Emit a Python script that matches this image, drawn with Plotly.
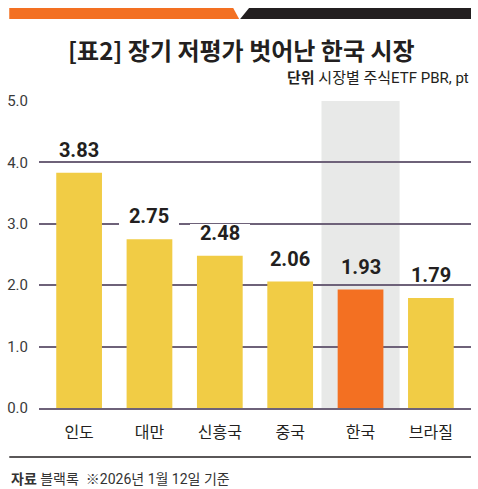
import plotly.graph_objects as go

# data
categories = ["인도", "대만", "신흥국", "중국", "한국", "브라질"]
pbr_values = [3.83, 2.75, 2.48, 2.06, 1.93, 1.79]
highlight = "한국"
y_ticks = [0, 1, 2, 3, 4, 5]

# colours
YELLOW = "#f1cc45"
ORANGE = "#f37022"
BAND = "#e8e9e8"
GRID = "#6e6279"
TEXT = "#231f20"
FONT = "Roboto, Noto Sans CJK KR, sans-serif"

# page geometry (pixels) -> paper coords
W, H = 478, 489
L, R, T, B = 35, 7, 101, 81
PW, PH = W - L - R, H - T - B


def px(x):
    return (x - L) / PW


def py(y):
    return (H - B - y) / PH


hi = categories.index(highlight)
colors = [ORANGE if c == highlight else YELLOW for c in categories]

fig = go.Figure()

fig.add_trace(go.Bar(
    x=categories,
    y=pbr_values,
    marker=dict(color=colors, line=dict(width=0)),
    width=0.65,
    hoverinfo="x+y",
))

shapes = [
    # gray band behind the highlighted market
    dict(type="rect", xref="x", yref="y", x0=hi - 0.555, x1=hi + 0.555,
         y0=0, y1=max(y_ticks), fillcolor=BAND, line=dict(width=0), layer="below"),
    # header stripe: orange + black with a notch
    dict(type="path", xref="paper", yref="paper",
         path=f"M {px(5)},{py(8)} L {px(231)},{py(8)} L {px(237)},{py(19)} L {px(5)},{py(19)} Z",
         fillcolor=ORANGE, line=dict(width=0)),
    dict(type="path", xref="paper", yref="paper",
         path=f"M {px(247)},{py(8)} L {px(471)},{py(8)} L {px(471)},{py(19)} L {px(238)},{py(19)} Z",
         fillcolor="#231f20", line=dict(width=0)),
    # footer rule
    dict(type="line", xref="paper", yref="paper", x0=px(5), x1=px(471),
         y0=py(457), y1=py(457), line=dict(color="#231f20", width=1.5)),
]

annotations = [
    dict(text="[표2] 장기 저평가 벗어난 한국 시장", xref="paper", yref="paper",
         x=px(239), y=py(50), xanchor="center", yanchor="middle", showarrow=False,
         font=dict(family="Noto Sans CJK KR", size=24, color=TEXT, weight="bold")),
    dict(text="<b>단위</b> 시장별 주식ETF PBR, pt", xref="paper", yref="paper",
         x=px(471), y=py(78), xanchor="right", yanchor="middle", showarrow=False,
         font=dict(family=FONT, size=15, color=TEXT)),
    dict(text="<b>자료</b> 블랙록  ※2026년 1월 12일 기준", xref="paper", yref="paper",
         x=px(5), y=py(479), xanchor="left", yanchor="middle", showarrow=False,
         font=dict(family=FONT, size=14, color="#333333")),
]

# value labels above bars
for c, v in zip(categories, pbr_values):
    annotations.append(dict(
        text=f"{v:.2f}", x=c, y=v, xref="x", yref="y",
        xanchor="center", yanchor="middle", yshift=23, showarrow=False,
        width=60, height=18, borderpad=0, borderwidth=0,
        bgcolor="rgba(0,0,0,0)" if c == highlight else "white",
        font=dict(family=FONT, size=20, color=TEXT, weight="bold"),
    ))

fig.update_layout(
    width=W, height=H,
    margin=dict(l=L, r=R, t=T, b=B),
    paper_bgcolor="white",
    plot_bgcolor="white",
    showlegend=False,
    bargap=0.35,
    shapes=shapes,
    annotations=annotations,
    font=dict(family=FONT, color=TEXT),
)

fig.update_xaxes(
    range=[-0.57, len(categories) - 0.43],
    showgrid=False,
    showline=True, linecolor=GRID, linewidth=1.5, layer="above traces",
    ticks="", ticklabelstandoff=9,
    tickfont=dict(family=FONT, size=16, color=TEXT),
    fixedrange=True,
)

fig.update_yaxes(
    range=[0, 5],
    tickvals=y_ticks,
    tickformat=".1f",
    showgrid=True, gridcolor=GRID, gridwidth=1.5,
    zeroline=False,
    ticks="", ticklabelstandoff=10,
    tickfont=dict(family=FONT, size=15, color="#3a3a3a"),
    fixedrange=True,
)

fig.write_html(
    "out.html",
    config={"displayModeBar": False},
    post_script="document.body.style.margin='0';document.body.style.overflow='hidden';",
)
